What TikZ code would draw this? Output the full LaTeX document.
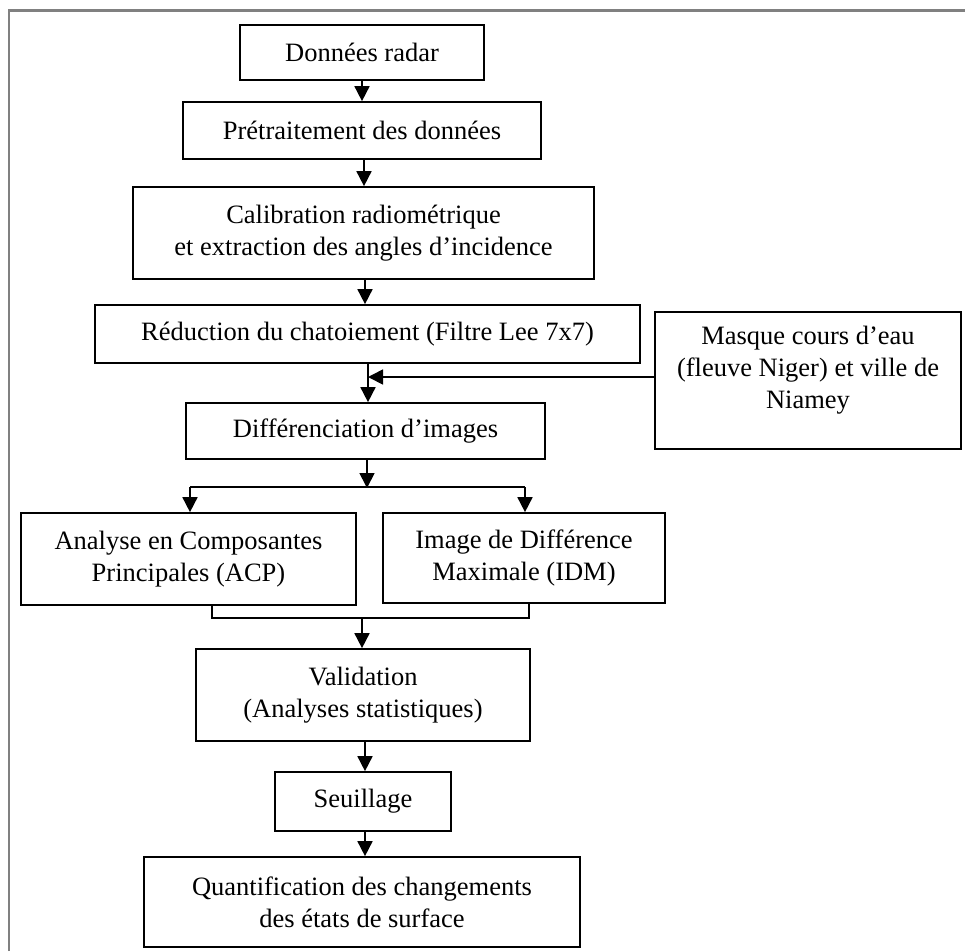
\documentclass[tikz,border=0pt]{standalone}
\usepackage{fontspec}
\setmainfont{Liberation Serif}
\usetikzlibrary{arrows.meta,calc}
\begin{document}
\begin{tikzpicture}[x=1pt,y=-1pt,
  box/.style={draw=black,line width=1.7pt,inner sep=0pt,align=center,
    font=\fontsize{26.5}{32}\selectfont},
  conn/.style={line width=1.7pt,black},
  arr/.style={conn,-{Triangle[width=15pt,length=15pt]}},
  frameline/.style={line width=2.5pt,draw=black!50}]
\useasboundingbox (0,0) rectangle (965,951);
\draw[frameline] (9,951) -- (9,10.5) -- (965,10.5);

\node[box,minimum width=244pt,minimum height=55pt] (n1) at (362,52.5) {Données radar};
\node[box,minimum width=358pt,minimum height=57pt] (n2) at (362,130.5) {Prétraitement des données};
\node[box,minimum width=461pt,minimum height=92pt] (n3) at (363.5,233) {Calibration radiométrique\\et extraction des angles d’incidence};
\node[box,minimum width=545pt,minimum height=58pt] (n4) at (367.5,334) {Réduction du chatoiement (Filtre Lee 7x7)};
\node[box,minimum width=359pt,minimum height=56pt] (n5) at (365.5,431) {Différenciation d’images};
\node[box,minimum width=306pt,minimum height=137pt,text depth=27pt] (mask) at (808,380.5) {Masque cours d’eau\\(fleuve Niger) et ville de\\Niamey};
\node[box,minimum width=335pt,minimum height=92pt] (n6) at (188.5,559) {Analyse en Composantes\\Principales (ACP)};
\node[box,minimum width=282pt,minimum height=90pt] (n7) at (524,558) {Image de Différence\\Maximale (IDM)};
\node[box,minimum width=334pt,minimum height=92pt] (n8) at (363,695) {Validation\\(Analyses statistiques)};
\node[box,minimum width=176pt,minimum height=59pt] (n9) at (363,801.5) {Seuillage};
\node[box,minimum width=436pt,minimum height=90pt] (n10) at (362,902) {Quantification des changements\\des états de surface};

\coordinate (c12) at (362,0);
\coordinate (c23) at (364,0);
\coordinate (c34) at (365,0);
\coordinate (c45) at (368,0);
\coordinate (cmask) at (368,377);
\coordinate (csplit) at (367,487);
\coordinate (cl) at (190,487);
\coordinate (cr) at (525,487);
\coordinate (ml) at (212,618);
\coordinate (mr) at (529,618);
\coordinate (mc) at (362,618);
\coordinate (c89) at (365,0);

\draw[arr] (c12 |- n1.south) -- (c12 |- n2.north);
\draw[arr] (c23 |- n2.south) -- (c23 |- n3.north);
\draw[arr] (c34 |- n3.south) -- (c34 |- n4.north);
\draw[arr] (c45 |- n4.south) -- (c45 |- n5.north);
\draw[arr] (mask.west |- cmask) -- (cmask);
\draw[arr] (csplit |- n5.south) -- ($(csplit)+(0,1)$);
\draw[conn] (cl) -- (cr);
\draw[arr] (cl) -- (cl |- n6.north);
\draw[arr] (cr) -- (cr |- n7.north);
\draw[conn] (ml |- n6.south) -- (ml) -- (mr) -- (mr |- n7.south);
\draw[arr] (mc) -- (mc |- n8.north);
\draw[arr] (c89 |- n8.south) -- (c89 |- n9.north);
\draw[arr] (c89 |- n9.south) -- (c89 |- n10.north);
\end{tikzpicture}
\end{document}
